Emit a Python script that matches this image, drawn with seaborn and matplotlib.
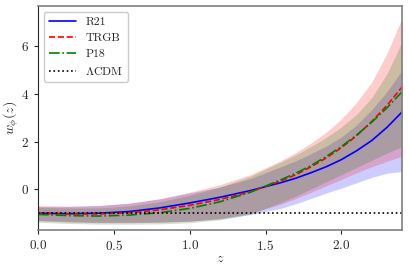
import matplotlib
matplotlib.use('Agg')
import matplotlib.pyplot as plt
import pandas as pd
import seaborn as sns

# ------------------------ data ------------------------ #
z = [0.0, 0.2, 0.4, 0.6, 0.8, 1.0, 1.2, 1.4, 1.6, 1.7, 1.8, 1.9, 2.0, 2.1, 2.2, 2.3, 2.4]

r21_mean = [-1.00, -1.02, -1.00, -0.93, -0.78, -0.57, -0.33, -0.05, 0.28, 0.47, 0.70, 0.95, 1.25, 1.62, 2.05, 2.60, 3.25]
r21_lo = [-1.30, -1.35, -1.38, -1.38, -1.37, -1.33, -1.24, -1.05, -0.80, -0.60, -0.38, -0.15, 0.05, 0.28, 0.50, 0.68, 0.75]
r21_hi = [-0.72, -0.72, -0.68, -0.58, -0.40, -0.15, 0.10, 0.45, 0.95, 1.20, 1.50, 1.82, 2.20, 2.70, 3.35, 4.10, 5.00]

trgb_mean = [-1.00, -1.03, -1.03, -0.98, -0.86, -0.67, -0.42, -0.10, 0.35, 0.62, 0.95, 1.32, 1.75, 2.25, 2.85, 3.52, 4.30]
trgb_lo = [-1.32, -1.37, -1.40, -1.40, -1.38, -1.34, -1.22, -1.00, -0.62, -0.38, -0.12, 0.15, 0.42, 0.70, 0.95, 1.18, 1.40]
trgb_hi = [-0.68, -0.70, -0.68, -0.58, -0.40, -0.12, 0.20, 0.62, 1.20, 1.55, 1.95, 2.40, 2.95, 3.65, 4.50, 5.70, 7.20]

p18_mean = [-1.05, -1.10, -1.12, -1.08, -0.98, -0.80, -0.52, -0.12, 0.40, 0.68, 1.00, 1.38, 1.80, 2.28, 2.82, 3.42, 4.10]
p18_lo = [-1.38, -1.43, -1.46, -1.46, -1.45, -1.40, -1.28, -1.05, -0.55, -0.28, 0.02, 0.32, 0.62, 0.92, 1.22, 1.52, 1.80]
p18_hi = [-0.75, -0.78, -0.78, -0.70, -0.52, -0.25, 0.10, 0.55, 1.15, 1.45, 1.80, 2.18, 2.62, 3.15, 3.85, 4.85, 6.20]

lcdm_z = [0.0, 2.4]
lcdm_w = [-1.0, -1.0]

labels = ['R21', 'TRGB', 'P18']
colors = ['blue', 'red', 'green']
styles = ['-', '--', '-.']

# ------------------------ style ------------------------ #
sns.set_style('ticks')
plt.rcParams['font.family'] = ['serif']
plt.rcParams['font.serif'] = ['cmr10', 'DejaVu Serif']
plt.rcParams['mathtext.fontset'] = 'cm'
plt.rcParams['axes.formatter.use_mathtext'] = True
plt.rcParams['axes.unicode_minus'] = True

fig = plt.figure(figsize=(4.09, 2.73), dpi=100)
ax = fig.add_axes([0.093, 0.158, 0.89, 0.82])

means = [r21_mean, trgb_mean, p18_mean]
los = [r21_lo, trgb_lo, p18_lo]
his = [r21_hi, trgb_hi, p18_hi]

# shaded bands
for lo, hi, c in zip(los, his, colors):
    ax.fill_between(z, lo, hi, color=c, alpha=0.2, linewidth=0)

# mean curves
for m, lab, c, ls in zip(means, labels, colors, styles):
    df = pd.DataFrame({'z': z, 'w': m})
    sns.lineplot(data=df, x='z', y='w', ax=ax, color=c, linestyle=ls,
                 linewidth=1.2, label=lab)

df_l = pd.DataFrame({'z': lcdm_z, 'w': lcdm_w})
sns.lineplot(data=df_l, x='z', y='w', ax=ax, color='black', linestyle=':',
             linewidth=1.2, label=r'$\Lambda$CDM')

ax.set_xlim(0, 2.4)
ax.set_ylim(-1.7, 7.7)
ax.set_xticks([0.0, 0.5, 1.0, 1.5, 2.0])
ax.set_yticks([0, 2, 4, 6])
ax.set_xlabel(r'$z$', fontsize=10, labelpad=0)
ax.set_ylabel(r'$w_\phi(z)$', fontsize=10, labelpad=0)
ax.tick_params(labelsize=9.5, length=3)

for side in ['top', 'right', 'bottom']:
    ax.spines[side].set_color('#808080')
    ax.spines[side].set_linewidth(1.2)

ax.legend(loc='upper left', fontsize=8.5, handlelength=2.3, framealpha=1)

plt.savefig('out.png', dpi=100)
